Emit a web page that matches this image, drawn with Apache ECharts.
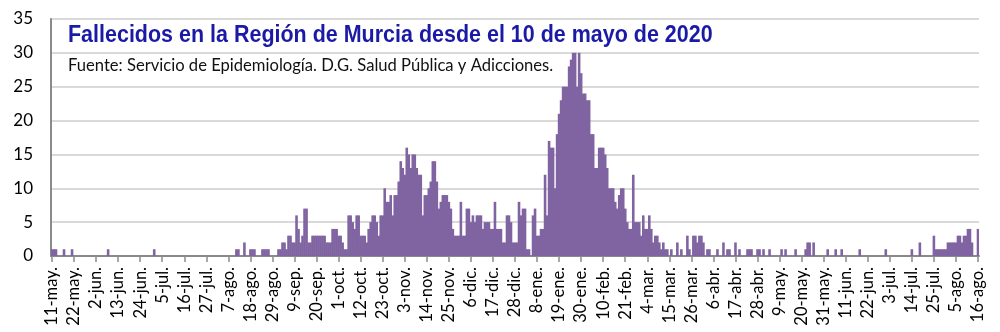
<!DOCTYPE html>
<html>
<head>
<meta charset="utf-8">
<script src="https://cdn.jsdelivr.net/npm/echarts@6/dist/echarts.min.js"></script>
<style>
html,body{margin:0;padding:0;background:#fff;}
#chart{width:1000px;height:332px;}
</style>
</head>
<body>
<div id="chart"></div>
<script>
// Text
const titleText = 'Fallecidos en la Región de Murcia desde el 10 de mayo de 2020';
const sourceText = 'Fuente: Servicio de Epidemiología. D.G. Salud Pública y Adicciones.';
// First day of the series and month abbreviations used in the tick labels
const startDay = [2020, 4, 11];
const monthAbbr = ['ene.','feb.','mar.','abr.','may.','jun.','jul.','ago.','sep.','oct.','nov.','dic.'];
// Daily deaths, one line per 11-day label group
const deaths = [
  1,1,1,0,0,0,1,0,0,0,1,        // 11-may
  0,0,0,0,0,0,0,0,0,0,0,        // 22-may
  0,0,0,0,0,0,1,0,0,0,0,        // 2-jun
  0,0,0,0,0,0,0,0,0,0,0,        // 13-jun
  0,0,0,0,0,0,0,1,0,0,0,        // 24-jun
  0,0,0,0,0,0,0,0,0,0,0,        // 5-jul
  0,0,0,0,0,0,0,0,0,0,0,        // 16-jul
  0,0,0,0,0,0,0,0,0,0,0,        // 27-jul
  0,0,0,0,1,1,0,0,2,0,0,        // 7-ago
  1,1,1,0,0,0,1,1,1,1,0,        // 18-ago
  0,0,0,1,1,2,2,1,3,3,2,        // 29-ago
  2,6,4,2,3,7,7,2,2,3,3,        // 9-sep
  3,3,3,3,3,2,2,2,4,4,4,        // 20-sep
  3,3,2,1,1,6,6,5,4,6,6,        // 1-oct
  3,3,3,2,4,5,6,6,5,3,6,        // 12-oct
  6,10,8,8,9,6,9,9,11,14,13,    // 23-oct
  12,16,15,13,15,15,13,12,12,6,9, // 3-nov
  9,10,11,14,14,11,7,8,9,9,9,   // 14-nov
  8,7,4,3,3,3,8,3,3,7,7,        // 25-nov
  5,6,5,6,6,6,4,5,5,5,4,        // 6-dic
  4,8,4,4,4,2,2,6,6,5,2,        // 17-dic
  2,2,8,6,7,7,1,1,0,6,7,        // 28-dic
  3,3,4,4,12,6,17,16,16,10,18,  // 8-ene
  21,23,25,25,25,28,29,30,30,25,30, // 19-ene
  27,24,24,23,23,18,18,13,13,16,16, // 30-ene
  16,15,13,10,10,10,8,7,9,10,10, // 10-feb
  7,5,4,4,12,5,5,5,3,6,4,       // 21-feb
  4,6,4,2,3,3,2,1,2,1,1,        // 4-mar
  0,1,0,0,2,0,1,0,0,3,1,        // 15-mar
  0,3,3,2,3,3,2,0,1,1,0,        // 26-mar
  0,0,1,0,0,2,0,1,1,0,0,        // 6-abr
  2,0,1,0,0,0,1,1,1,0,0,        // 17-abr
  1,1,0,1,0,0,1,0,0,0,0,        // 28-abr
  0,1,0,1,0,0,0,0,1,0,0,        // 9-may
  0,0,1,2,2,0,2,0,0,0,0,        // 20-may
  0,0,1,0,0,0,1,0,0,1,0,        // 31-may
  0,0,0,0,0,0,0,1,0,0,0,        // 11-jun
  0,0,0,0,0,0,0,0,0,1,0,        // 22-jun
  0,0,0,0,0,0,0,0,0,0,0,        // 3-jul
  1,0,0,0,2,0,0,0,0,0,0,        // 14-jul
  3,1,1,1,1,1,1,2,2,2,2,        // 25-jul
  2,3,3,2,3,3,4,4,2,0,0,        // 5-ago
  4                             // 16-ago
];
const yTicks = [0, 35, 5]; // min, max, interval

const categories = deaths.map((_, i) => {
  const d = new Date(Date.UTC(startDay[0], startDay[1], startDay[2] + i));
  return d.getUTCDate() + '-' + monthAbbr[d.getUTCMonth()];
});

const chart = echarts.init(document.getElementById('chart'), null, {renderer: 'canvas'});
chart.setOption({
  animation: false,
  backgroundColor: '#ffffff',
  graphic: [
    {
      type: 'text', x: 68, y: 23, scaleX: 0.895, z: 10,
      style: {
        text: titleText,
        font: 'bold 24px "Liberation Sans", Arial, sans-serif',
        fill: '#1a1aa6', textVerticalAlign: 'top'
      }
    },
    {
      type: 'text', x: 68, y: 57, z: 10,
      style: {
        text: sourceText,
        font: '16.6px Lato, "Open Sans", sans-serif',
        fill: '#111111', textVerticalAlign: 'top'
      }
    }
  ],
  grid: {left: 51, right: 21, top: 19, bottom: 76, containLabel: false},
  xAxis: {
    type: 'category',
    data: categories,
    boundaryGap: true,
    axisLine: {lineStyle: {color: '#8a8a8a', width: 2}},
    axisTick: {show: true, interval: 10, alignWithLabel: true, length: 6, lineStyle: {color: '#8a8a8a', width: 1.5}},
    axisLabel: {
      interval: 10, rotate: 90, margin: 11,
      fontFamily: 'Lato, "Open Sans", sans-serif', fontSize: 16.5, color: '#000'
    },
    splitLine: {show: false}
  },
  yAxis: {
    type: 'value',
    min: yTicks[0], max: yTicks[1], interval: yTicks[2],
    axisLine: {show: true, lineStyle: {color: '#8a8a8a', width: 2}},
    axisTick: {show: false},
    axisLabel: {margin: 18, fontFamily: 'Lato, "Open Sans", sans-serif', fontSize: 17, color: '#000'},
    splitLine: {show: true, lineStyle: {color: '#d9d9d9', width: 2}}
  },
  series: [{
    type: 'bar',
    data: deaths,
    barWidth: 2.6,
    itemStyle: {color: '#8064a2'},
    emphasis: {disabled: true}
  }]
});
</script>
</body>
</html>
